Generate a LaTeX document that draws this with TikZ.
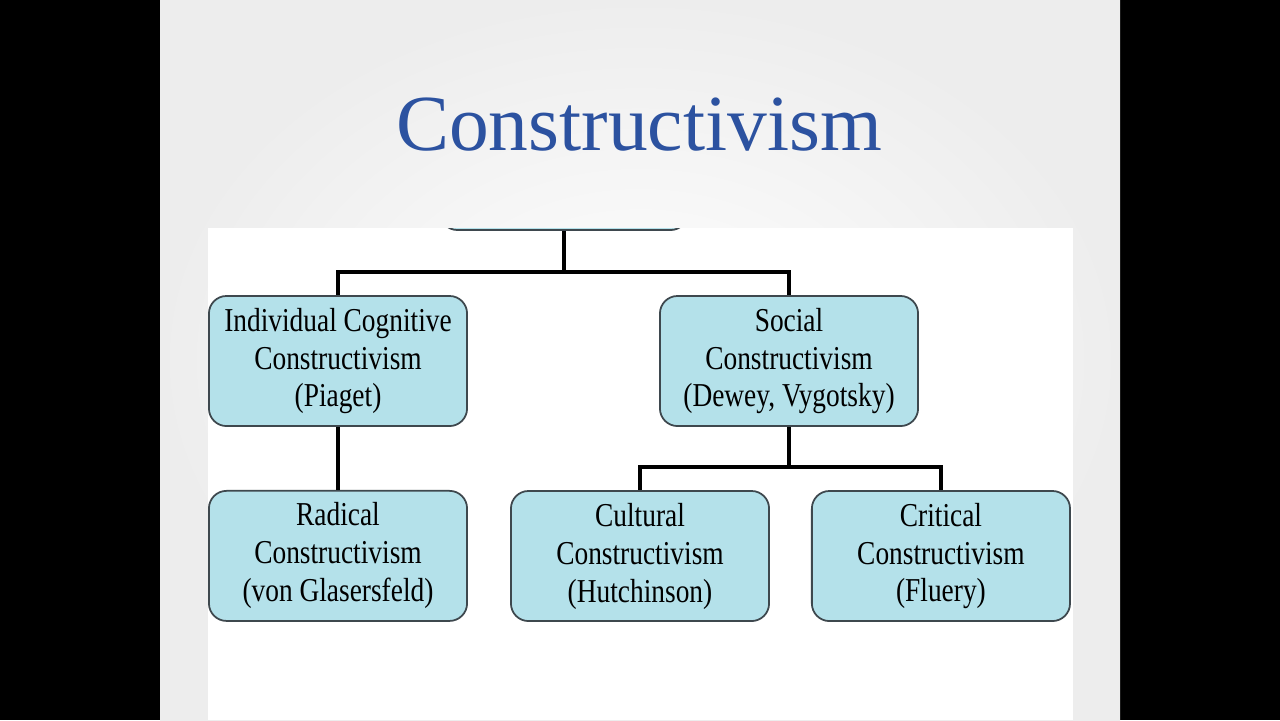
\documentclass[tikz,border=0pt]{standalone}
\usepackage{fontspec}
\setmainfont{Liberation Serif}
\newfontfamily\boxfont[FakeStretch=0.82]{Liberation Serif}
\usetikzlibrary{positioning}
\definecolor{titleblue}{RGB}{44,82,160}
\definecolor{boxcyan}{RGB}{180,225,234}
\definecolor{boxrim}{RGB}{62,72,78}

\begin{document}
\begin{tikzpicture}[x=0.01cm,y=-0.01cm,
    theory/.style={draw=boxrim,fill=boxcyan,rounded corners=5pt,line width=0.5pt,align=center,
      minimum width=2.58cm,minimum height=1.3cm,inner sep=2pt,
      font=\boxfont\fontsize{9.5}{10.8}\selectfont},
    link/.style={line width=1.1pt,black}]
    \useasboundingbox (0,0) rectangle (1280,720);
    \fill[black] (0,0) rectangle (1280,720);
    \shade[inner color=white,outer color=black!7] (160,0) rectangle (1120,720);
    \node[text=titleblue,font=\fontsize{22.6}{25}\selectfont] (title) at (639,125) {Constructivism};
    \begin{scope}
      \clip (208,228) rectangle (1073,720);
      \fill[white] (208,228) rectangle (1073,720);
      \node[theory,minimum width=2.48cm,minimum height=0.8cm] (root) at (564,190) {};
      \node[theory] (icc) at (338,361) {Individual Cognitive\\Constructivism\\(Piaget)};
      \node[theory] (soc) at (789,361) {Social\\Constructivism\\(Dewey, Vygotsky)};
      \node[theory,below=0.63cm of icc] (rad) {Radical\\Constructivism\\(von Glasersfeld)};
      \node[theory] (cul) at (640,556) {Cultural\\Constructivism\\(Hutchinson)};
      \node[theory,right=0.41cm of cul] (cri) {Critical\\Constructivism\\(Fluery)};
      % tree links
      \coordinate (j1) at (564,272);
      \coordinate (j2) at (789,467);
      \draw[link] (root.south) -- (j1) -| (icc.north);
      \draw[link] (j1) -| (soc.north);
      \draw[link] (icc.south) -- (rad.north);
      \draw[link] (soc.south) -- (j2) -| (cul.north);
      \draw[link] (j2) -| (cri.north);
    \end{scope}
  \end{tikzpicture}
\end{document}
